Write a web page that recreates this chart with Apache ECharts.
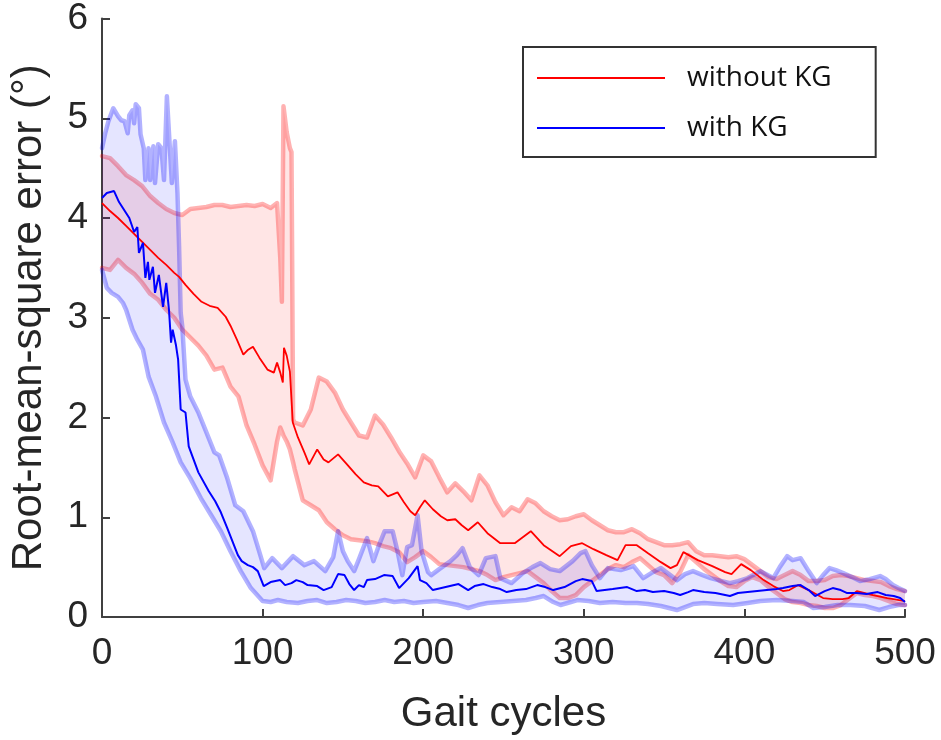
<!DOCTYPE html>
<html>
<head>
<meta charset="utf-8">
<script src="https://cdn.jsdelivr.net/npm/echarts@6/dist/echarts.min.js"></script>
<style>html,body{margin:0;padding:0;background:#fff}#c{width:941px;height:740px}</style>
</head>
<body>
<div id="c"></div>
<script>
// ---------- data ----------
const xTicks = [0, 100, 200, 300, 400, 500];
const yTicks = [0, 1, 2, 3, 4, 5, 6];

// red ("without KG") band
const redUpperX = [0,5,10,15,20,25,30,35,40,45,50,55,60,65,70,75,80,85,90,95,100,105,109,111,112,113,115,117,118,119,120,125,130,135,140,145,150,155,160,165,170,175,180,185,190,195,200,205,210,215,220,225,230,235,240,245,250,255,260,265,270,275,280,285,290,295,300,305,310,315,320,325,330,335,340,345,350,355,360,365,370,375,380,385,390,395,400,405,410,415,420,425,430,435,440,445,450,455,460,465,470,475,480,485,490,495,500];
const redUpperY = [4.62,4.60,4.52,4.43,4.38,4.32,4.22,4.15,4.09,4.05,4.03,4.09,4.10,4.11,4.13,4.13,4.11,4.12,4.13,4.12,4.14,4.10,4.15,3.60,3.16,5.12,4.86,4.70,4.66,1.98,1.95,1.92,2.08,2.40,2.36,2.25,2.08,1.95,1.82,1.80,2.02,1.93,1.80,1.66,1.54,1.40,1.62,1.56,1.40,1.25,1.34,1.26,1.17,1.42,1.32,1.15,1.02,1.10,1.06,1.18,1.14,1.06,1.01,0.97,0.98,1.01,1.03,0.97,0.92,0.87,0.85,0.85,0.88,0.84,0.78,0.75,0.72,0.72,0.73,0.75,0.66,0.62,0.62,0.61,0.60,0.61,0.58,0.52,0.46,0.40,0.38,0.42,0.46,0.42,0.36,0.36,0.37,0.41,0.42,0.41,0.39,0.37,0.36,0.35,0.31,0.28,0.26];
const redLowerX = [0,5,10,15,20,25,30,35,40,45,50,55,60,65,70,75,80,85,90,95,100,105,109,111,113,115,117,119,120,125,130,135,140,145,150,155,160,165,170,175,180,185,190,195,200,205,210,215,220,225,230,235,240,245,250,255,260,265,270,275,280,285,290,295,300,305,310,315,320,325,330,335,340,345,350,355,360,365,370,375,380,385,390,395,400,405,410,415,420,425,430,435,440,445,450,455,460,465,470,475,480,485,490,495,500];
const redLowerY = [3.50,3.48,3.58,3.50,3.44,3.35,3.24,3.18,3.08,3.00,2.88,2.80,2.72,2.62,2.48,2.50,2.31,2.21,1.92,1.73,1.52,1.37,1.76,1.90,1.82,1.76,1.68,1.55,1.48,1.17,1.12,1.07,0.95,0.88,0.82,0.78,0.77,0.76,0.74,0.71,0.69,0.65,0.55,0.60,0.66,0.60,0.53,0.52,0.51,0.50,0.48,0.46,0.42,0.37,0.40,0.42,0.44,0.46,0.40,0.34,0.26,0.19,0.19,0.22,0.30,0.36,0.42,0.48,0.52,0.50,0.55,0.59,0.52,0.45,0.42,0.34,0.45,0.62,0.55,0.48,0.42,0.36,0.31,0.30,0.36,0.40,0.37,0.30,0.24,0.18,0.15,0.14,0.12,0.11,0.09,0.09,0.12,0.18,0.24,0.22,0.21,0.19,0.16,0.13,0.12];
const redMeanX = [0,5,10,15,20,25,30,35,40,45,48,52,57,62,67,72,77,80,84,88,91,94,98,103,107,109,111,112.6,113.3,115,117,118.8,122,126,129,134,138,141,147,152,158,163,168,172,178,184,188,192,195,198,201,206,211,215,220,224,228,234,240,248,257,262,267,275,285,292,299,306,314,321,326,333,340,348,354,358,362,371,380,388,392,398,404,412,418,424,428,433.5,440,449,455,461,465,470,475,480,489,500];
const redMeanY = [4.15,4.07,4.00,3.92,3.84,3.76,3.68,3.60,3.53,3.45,3.41,3.33,3.24,3.16,3.12,3.10,3.01,2.92,2.78,2.63,2.68,2.71,2.60,2.48,2.45,2.55,2.45,2.35,2.70,2.62,2.46,1.95,1.80,1.65,1.53,1.68,1.58,1.55,1.63,1.54,1.43,1.35,1.32,1.31,1.21,1.25,1.15,1.06,1.02,1.10,1.17,1.08,1.01,0.97,0.98,0.92,0.87,0.95,0.84,0.74,0.74,0.80,0.86,0.72,0.61,0.71,0.74,0.68,0.62,0.57,0.72,0.72,0.64,0.55,0.49,0.52,0.65,0.57,0.51,0.45,0.43,0.53,0.47,0.37,0.31,0.26,0.27,0.32,0.27,0.19,0.18,0.18,0.19,0.26,0.24,0.22,0.19,0.16];

// blue ("with KG") band
const blueUpperX = [0,2,4,7,10,12,14,16,17,19,20,21,23,24,26,27,29,30,32,33,35,37,38.6,40.4,42,43.5,45.4,47,48,49,50,52,55,60,65,70,73,78,83,88,94,98,101,106,112,119,126,132,139,144,147,150,153,157,160,165,169,172,176,181,184,187,190,193,196.5,199,203,205,210,217,221,224.5,229,234.5,239,245,248,255,262,268,273,279,285,293,298,301,305,310,315,323,331,337,342,348,358,363,368,374,379,386,391,396,402,410,418,422,426.6,430,435,440,445,449,453,457,461.5,467,472,478,484.5,488,492.5,496,500];
const blueUpperY = [4.70,4.85,4.97,5.10,5.02,4.98,4.97,4.85,5.03,5.08,4.95,5.14,5.10,4.84,4.70,4.38,4.70,4.38,4.72,4.35,4.74,4.70,4.38,5.22,4.77,4.35,4.77,4.25,3.71,3.05,2.91,2.38,2.21,2.05,1.85,1.65,1.62,1.39,1.12,1.06,0.86,0.65,0.49,0.59,0.49,0.61,0.52,0.56,0.46,0.60,0.86,0.66,0.56,0.46,0.58,0.79,0.56,0.70,0.86,0.86,0.66,0.42,0.70,0.72,1.02,0.66,0.45,0.42,0.48,0.56,0.62,0.69,0.50,0.42,0.59,0.61,0.39,0.34,0.44,0.50,0.54,0.48,0.46,0.56,0.64,0.66,0.52,0.39,0.49,0.47,0.51,0.39,0.44,0.49,0.37,0.43,0.46,0.42,0.39,0.36,0.34,0.36,0.39,0.46,0.39,0.50,0.61,0.57,0.59,0.46,0.34,0.42,0.49,0.47,0.44,0.40,0.36,0.38,0.41,0.38,0.32,0.29,0.26];
const blueLowerX = [0,3,6,10,13,15,19,22,25.5,29,33.6,38.6,44,49,55,61.6,68,74,80,86.4,92.7,100,105,109.5,115,122,128,134,140,146,152,158,164,170,176,182,188,194,200,208,215,222,228,234,240,248,256,264,270,275,281,285.5,292,296,303,310,318,326,333,340,348,353,358,363,368,375,383,393,402,410,420,430,437,443,450,458,466,475,484,490,496,500];
const blueLowerY = [3.48,3.30,3.25,3.21,3.15,3.08,2.88,2.78,2.68,2.41,2.21,1.95,1.75,1.55,1.39,1.19,1.02,0.86,0.66,0.46,0.29,0.16,0.15,0.17,0.15,0.14,0.16,0.17,0.14,0.15,0.17,0.16,0.14,0.15,0.17,0.15,0.16,0.14,0.15,0.16,0.14,0.12,0.09,0.12,0.14,0.15,0.16,0.17,0.19,0.21,0.15,0.12,0.15,0.17,0.16,0.14,0.15,0.14,0.14,0.13,0.11,0.09,0.07,0.10,0.13,0.14,0.13,0.12,0.14,0.16,0.17,0.16,0.15,0.09,0.10,0.12,0.12,0.11,0.07,0.10,0.12,0.12];
const blueMeanX = [0,3,7.5,10.6,13,15,17,18,20,22,23,25.5,27,28.6,29.5,31.7,33,35.4,38,40,41.7,43,44,46,47.4,49,52,54,57,60,66.5,70.5,71.5,74,78,84.6,87,90.8,94,97,100.7,105,108,111,114,118,121,125,128,134,138,143,147,151,154,157,160,163,165,170,175.6,181,185,191,196.5,198,202,206,214,222,228,232,237.6,243,248,252,258,264,271,276,281,288,295,299,302,305,308,313,318,327,333,338,343,350,356,360,365,368,375,382,391,396,402,408,414,420,424,430,435,440,444,450,455,460,464,470,476,483,488,493,497,500];
const blueMeanY = [4.20,4.25,4.27,4.16,4.10,4.05,4.00,4.02,3.86,3.91,3.65,3.75,3.40,3.56,3.38,3.51,3.25,3.43,3.11,3.35,3.08,2.75,2.88,2.73,2.58,2.08,2.05,1.71,1.58,1.45,1.26,1.16,1.18,1.05,0.89,0.62,0.56,0.52,0.50,0.46,0.31,0.35,0.36,0.37,0.32,0.34,0.37,0.35,0.32,0.31,0.27,0.30,0.43,0.42,0.33,0.27,0.32,0.30,0.37,0.38,0.42,0.41,0.29,0.39,0.51,0.37,0.34,0.27,0.30,0.33,0.27,0.31,0.33,0.30,0.28,0.25,0.27,0.28,0.32,0.30,0.27,0.30,0.36,0.38,0.37,0.36,0.26,0.27,0.28,0.30,0.26,0.27,0.25,0.26,0.24,0.22,0.25,0.27,0.25,0.24,0.21,0.24,0.25,0.26,0.27,0.28,0.29,0.31,0.32,0.27,0.21,0.26,0.29,0.27,0.24,0.24,0.23,0.25,0.22,0.21,0.19,0.15];

const seriesNames = ['without KG', 'with KG'];

// ---------- helpers ----------
const zip = (xs, ys) => xs.map((x, i) => [x, ys[i]]);

function bandSeries(upX, upY, loX, loY, fill, z) {
  return {
    type: 'custom',
    silent: true,
    z: z,
    data: [[0, 0]],
    renderItem: function (params, api) {
      const pts = [];
      for (let i = 0; i < upX.length; i++) pts.push(api.coord([upX[i], upY[i]]));
      for (let i = loX.length - 1; i >= 0; i--) pts.push(api.coord([loX[i], loY[i]]));
      return { type: 'polygon', shape: { points: pts }, style: { fill: fill } };
    }
  };
}

function boundLine(xs, ys, color, z) {
  return {
    type: 'line', data: zip(xs, ys), showSymbol: false, symbol: 'none', silent: true, z: z,
    lineStyle: { color: color, width: 4.5, join: 'round', cap: 'round' }
  };
}

const chart = echarts.init(document.getElementById('c'), null, { renderer: 'canvas' });
const tickFont = 'Liberation Sans, Arial, sans-serif';

chart.setOption({
  animation: false,
  backgroundColor: '#ffffff',
  grid: { left: 101, right: 36, top: 17, bottom: 121, containLabel: false },
  legend: {
    data: seriesNames,
    orient: 'vertical',
    left: 523, top: 47,
    padding: [15, 44, 13, 14],
    itemGap: 18,
    itemWidth: 128, itemHeight: 2,
    icon: 'rect',
    borderColor: '#333333', borderWidth: 2,
    backgroundColor: '#ffffff',
    textStyle: { fontFamily: 'Open Sans, Noto Sans, sans-serif', fontSize: 28, color: '#111', padding: [0, 0, 0, 17], lineHeight: 32 }
  },
  xAxis: {
    type: 'value', min: xTicks[0], max: xTicks[xTicks.length - 1], interval: 100,
    name: 'Gait cycles', nameLocation: 'middle', nameGap: 76,
    nameTextStyle: { fontFamily: tickFont, fontSize: 42, color: '#262626' },
    axisLine: { show: true, lineStyle: { color: '#404040', width: 2 } },
    axisTick: { show: true, inside: true, length: 8, lineStyle: { color: '#404040', width: 2 } },
    axisLabel: { fontFamily: tickFont, fontSize: 37, color: '#262626', margin: 18 },
    splitLine: { show: false }
  },
  yAxis: {
    type: 'value', min: yTicks[0], max: yTicks[yTicks.length - 1], interval: 1,
    name: 'Root-mean-square error (°)', nameLocation: 'middle', nameGap: 52,
    nameTextStyle: { fontFamily: tickFont, fontSize: 42, color: '#262626' },
    axisLine: { show: true, lineStyle: { color: '#404040', width: 2 } },
    axisTick: { show: true, inside: true, length: 8, lineStyle: { color: '#404040', width: 2 } },
    axisLabel: { fontFamily: tickFont, fontSize: 37, color: '#262626', margin: 14 },
    splitLine: { show: false }
  },
  series: [
    bandSeries(redUpperX, redUpperY, redLowerX, redLowerY, 'rgba(255,0,0,0.1)', 1),
    boundLine(redUpperX, redUpperY, 'rgba(255,0,0,0.3)', 2),
    boundLine(redLowerX, redLowerY, 'rgba(255,0,0,0.3)', 2),
    bandSeries(blueUpperX, blueUpperY, blueLowerX, blueLowerY, 'rgba(0,0,255,0.1)', 3),
    boundLine(blueUpperX, blueUpperY, 'rgba(0,0,255,0.3)', 4),
    boundLine(blueLowerX, blueLowerY, 'rgba(0,0,255,0.3)', 4),
    { name: seriesNames[0], type: 'line', data: zip(redMeanX, redMeanY), showSymbol: false, symbol: 'none', z: 5,
      itemStyle: { color: '#ff0000' }, lineStyle: { color: '#ff0000', width: 1.8 } },
    { name: seriesNames[1], type: 'line', data: zip(blueMeanX, blueMeanY), showSymbol: false, symbol: 'none', z: 6,
      itemStyle: { color: '#0000ff' }, lineStyle: { color: '#0000ff', width: 2 } }
  ]
});
</script>
</body>
</html>
